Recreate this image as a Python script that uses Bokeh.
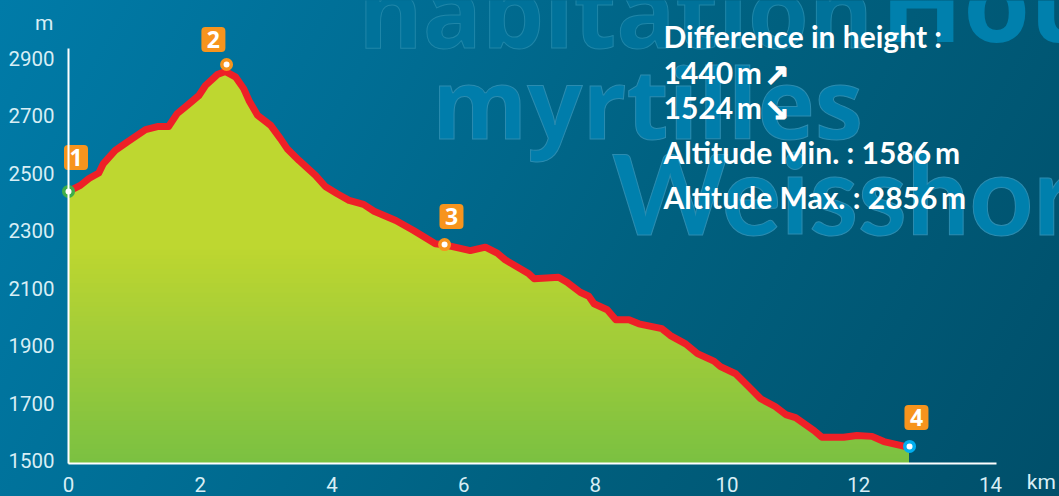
from bokeh.plotting import figure
from bokeh.models import LinearAxis, FixedTicker
from bokeh.core.properties import value
from bokeh.embed import file_html
from bokeh.resources import INLINE
import numpy as np

km = [0, .18, .31, .46, .53, .71, .89, 1.17, 1.35, 1.52, 1.65, 1.80, 1.98, 2.08, 2.26, 2.38, 2.54, 2.66, 2.74, 2.87,
      3.07, 3.22, 3.32, 3.50, 3.75, 3.90, 4.08, 4.26, 4.48, 4.64, 4.97, 5.24, 5.57, 5.71, 5.90, 6.10, 6.33, 6.51, 6.63,
      6.99, 7.07, 7.44, 7.57, 7.77, 7.90, 7.98, 8.18, 8.31, 8.51, 8.66, 9.01, 9.14, 9.37, 9.55, 9.80, 9.90, 10.13,
      10.31, 10.51, 10.73, 10.89, 11.04, 11.32, 11.44, 11.77, 11.97, 12.20, 12.38, 12.68, 12.76]
altitude = [2437, 2458, 2482, 2501, 2534, 2580, 2609, 2652, 2663, 2663, 2708, 2736, 2771, 2806, 2844, 2855, 2835, 2795, 2754, 2702,
            2667, 2620, 2586, 2545, 2493, 2454, 2429, 2406, 2392, 2368, 2336, 2301, 2255, 2251, 2241, 2231, 2243, 2222, 2199,
            2150, 2133, 2138, 2121, 2086, 2072, 2046, 2025, 1990, 1990, 1976, 1959, 1935, 1906, 1872, 1846, 1827, 1802,
            1761, 1715, 1688, 1660, 1649, 1604, 1581, 1581, 1587, 1584, 1566, 1550, 1549]
x_ticks = [0, 2, 4, 6, 8, 10, 12, 14]
y_ticks = [1500, 1700, 1900, 2100, 2300, 2500, 2700, 2900]
stop_km = [0, 2.40, 5.71, 12.77]
stop_m = [2437, 2879, 2252, 1549]
stop_ring = ["#3fae49", "#f7941d", "#f7941d", "#00aeef"]
badge_km = [0.114, 2.20, 5.815, 12.875]
badge_m = [2555, 2966, 2350, 1650]
badge_text = ["1", "2", "3", "4"]

BASE = 1489.5
p = figure(width=1059, height=496, output_backend="svg", toolbar_location=None,
           x_range=(-1.0325, 15.047), y_range=(1374.6, 3101.9),
           x_axis_type=None, y_axis_type=None, min_border=0,
           background_fill_color=None, border_fill_color=None, outline_line_color=None)
p.grid.visible = False
p.styles = {"position": "absolute", "left": "0", "top": "0",
            "background": "linear-gradient(118deg,#007ba8 0%,#006e95 30%,#00607f 60%,#004f6a 100%)"}

SANS = "Open Sans"
def bg(text, x, y, size, fill, outline, font=SANS):
    p.text([x], [y], text=[text], text_font=value(font), text_font_size=f"{size}px", text_font_style="bold",
           text_color=fill, text_outline_color=outline, text_baseline="alphabetic", y_offset=-0.41 * size)

bg("habitation", 4.40, 2928, 98, "#00729a", "#1f86a8")
bg("Hou", 12.33, 2949, 108, "#0080ad", None)
bg("myrtilles", 5.52, 2614, 97, "#007dab", "#2b8cb0")
bg("Weisshor", 8.25, 2277, 111, "#0080ad", "#2b8cb0", "Lato")

x = np.array(km)
y = np.array(altitude, dtype=float)
levels_c = [(3000, (190, 215, 48)), (2250, (190, 215, 48)), (1900, (160, 204, 58)), (1489, (122, 193, 66))]
lv = np.linspace(2300, BASE, 50)
ls = [c[0] for c in levels_c][::-1]
def chan(i):
    return np.interp(lv, ls, [c[1][i] for c in levels_c][::-1])
r, g, b = chan(0), chan(1), chan(2)
p.varea(x, y1=BASE, y2=y, fill_color="#bed730")
for L, cr, cg, cb in zip(lv, r, g, b):
    p.varea(x, y1=BASE, y2=np.minimum(y, L), fill_color=(int(cr), int(cg), int(cb)))

p.line(x, y, line_color="#ee2027", line_width=7, line_join="round")
p.scatter(stop_km, stop_m, size=9.5, fill_color="white", line_color=stop_ring, line_width=3.5)

p.rect(badge_km, badge_m, width=24, height=25, width_units="screen", height_units="screen",
       fill_color="#f7941d", line_color=None, border_radius=4)
p.text(badge_km, badge_m, text=badge_text, text_font=value(SANS), text_font_size="23px", text_font_style="bold",
       text_color="white", text_align="center", text_baseline="middle")

AX = "Roboto"
for loc, axis_kw, side in ((0, dict(ticker=FixedTicker(ticks=y_ticks), bounds=(BASE, 2935), major_label_standoff=8), "left"),
                           (BASE, dict(ticker=FixedTicker(ticks=x_ticks), bounds=(0, 14.09), major_label_standoff=7), "below")):
    ax = LinearAxis(fixed_location=loc, axis_line_color="white", axis_line_width=2,
                    major_tick_line_color=None, minor_tick_line_color=None,
                    major_label_text_color="#d8eef5", major_label_text_font=AX,
                    major_label_text_font_size="20.5px", **axis_kw)
    p.add_layout(ax, side)

p.text([-0.228], [3025], text=["m"], text_font=value(AX), text_font_size="21px", text_color="#d8eef5",
       text_align="right", text_baseline="middle")
p.text([14.55], [1424], text=["km"], text_font=value(AX), text_font_size="21px", text_color="#d8eef5",
       text_align="left", text_baseline="middle")

stat_x = 9.034
stats = ["Difference in height :", "1440\u2009m", "1524\u2009m", "Altitude Min. : 1586\u2009m", "Altitude Max. : 2856\u2009m"]
stat_y = [2935, 2810, 2688, 2531, 2374]
p.text([stat_x] * 5, stat_y, text=stats, text_font=value("Lato"), text_font_size="30px", text_font_style="bold",
       text_color="white", text_baseline="alphabetic", y_offset=-0.41 * 30)
p.text([10.75, 10.75], [2841, 2719], text=["\u2197", "\u2198"], text_font=value("DejaVu Sans"), text_font_size="30px",
       text_font_style="bold", text_color="white", text_outline_color="white", text_align="center", text_baseline="middle")

open("out.html", "w").write(file_html(p, INLINE))
